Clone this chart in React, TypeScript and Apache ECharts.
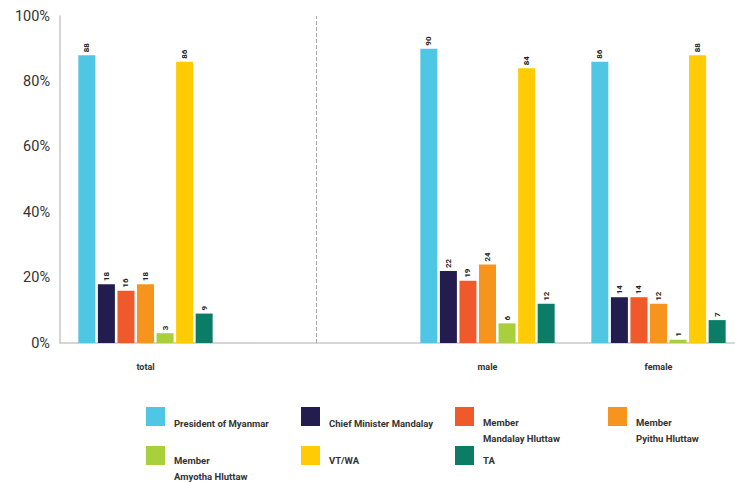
import React, { useEffect, useRef } from "react";
import * as echarts from "echarts";

const categories = ["total", "", "male", "female"];
const seriesNames = [
  "President of Myanmar",
  "Chief Minister Mandalay",
  "Member\nMandalay Hluttaw",
  "Member\nPyithu Hluttaw",
  "Member\nAmyotha Hluttaw",
  "VT/WA",
  "TA",
];
const president = [88, null, 90, 86];
const chiefMinister = [18, null, 22, 14];
const mandalayHluttaw = [16, null, 19, 14];
const pyithuHluttaw = [18, null, 24, 12];
const amyothaHluttaw = [3, null, 6, 1];
const vtwa = [86, null, 84, 88];
const ta = [9, null, 12, 7];
const yTicks = [0, 20, 40, 60, 80, 100];

const values = [president, chiefMinister, mandalayHluttaw, pyithuHluttaw, amyothaHluttaw, vtwa, ta];
const colors = ["#4FC7E4", "#231C4F", "#F05A2B", "#F7941E", "#A8CF3C", "#FFCB05", "#0B7C66"];

const FONT = "Roboto, 'Liberation Sans', sans-serif";

// s = height of the blank spacer line above the legend text
const legendPos = [
  { left: 146, top: 402, s: 13 },
  { left: 301, top: 402, s: 13 },
  { left: 455, top: 387, s: 27 },
  { left: 608, top: 387, s: 27 },
  { left: 146, top: 426.5, s: 26 },
  { left: 301, top: 442.5, s: 10 },
  { left: 455, top: 442.5, s: 10 },
];

export default function App() {
  const ref = useRef<HTMLDivElement>(null);
  useEffect(() => {
    const chart = echarts.init(ref.current!, null, { renderer: "svg" });
    chart.setOption({
      animation: false,
      grid: { left: 60, right: 1, top: 16, bottom: 139, containLabel: false },
      xAxis: {
        type: "category",
        data: categories,
        axisLine: { lineStyle: { color: "#c8c8c8", width: 1.5 } },
        axisTick: { show: false },
        axisLabel: { color: "#333", fontFamily: FONT, fontWeight: "bold", fontSize: 9, margin: 19 },
      },
      yAxis: {
        type: "value",
        min: 0,
        max: 100,
        interval: 20,
        axisLine: { show: true, lineStyle: { color: "#c8c8c8", width: 1.5 } },
        axisTick: { show: false },
        splitLine: { show: false },
        axisLabel: {
          color: "#333",
          fontFamily: FONT,
          fontSize: 14.5,
          margin: 10,
          formatter: (v: number) => (yTicks.includes(v) ? v + "%" : ""),
        },
      },
      legend: legendPos.map((p, i) => ({
        data: [seriesNames[i]],
        left: p.left,
        top: p.top,
        padding: 0,
        itemWidth: 19,
        itemHeight: 19,
        itemGap: 0,
        icon: "rect",
        selectedMode: false,
        formatter: (name: string) =>
          "{s| }\n" + name.split("\n").map((l) => "{t|" + l + "}").join("\n"),
        textStyle: {
          color: "#333",
          fontFamily: FONT,
          fontWeight: "bold",
          fontSize: 9.5,
          padding: [0, 0, 0, 4],
          rich: {
            s: { fontSize: 4, lineHeight: p.s, height: p.s },
            t: {
              color: "#333",
              fontFamily: FONT,
              fontWeight: "bold",
              fontSize: 9.5,
              lineHeight: 16,
            },
          },
        },
      })),
      series: seriesNames.map((name, i) => ({
        name,
        type: "bar",
        data: values[i],
        barWidth: 17,
        barGap: "15%",
        itemStyle: { color: colors[i] },
        label: {
          show: true,
          position: "top",
          rotate: 90,
          align: "left",
          verticalAlign: "middle",
          distance: 3,
          fontFamily: FONT,
          fontWeight: "bold",
          fontSize: 8,
          color: "#222",
        },
        markLine:
          i === 3
            ? {
                silent: true,
                symbol: "none",
                label: { show: false },
                lineStyle: { color: "#aaa", type: "dashed", width: 1 },
                data: [{ xAxis: 1 }],
              }
            : undefined,
      })),
    });
    return () => chart.dispose();
  }, []);
  return (
    <div style={{ position: "absolute", left: 0, top: 0, width: 735, height: 482, overflow: "hidden", background: "#fff" }}>
      <div ref={ref} style={{ width: 745, height: 482 }} />
    </div>
  );
}
